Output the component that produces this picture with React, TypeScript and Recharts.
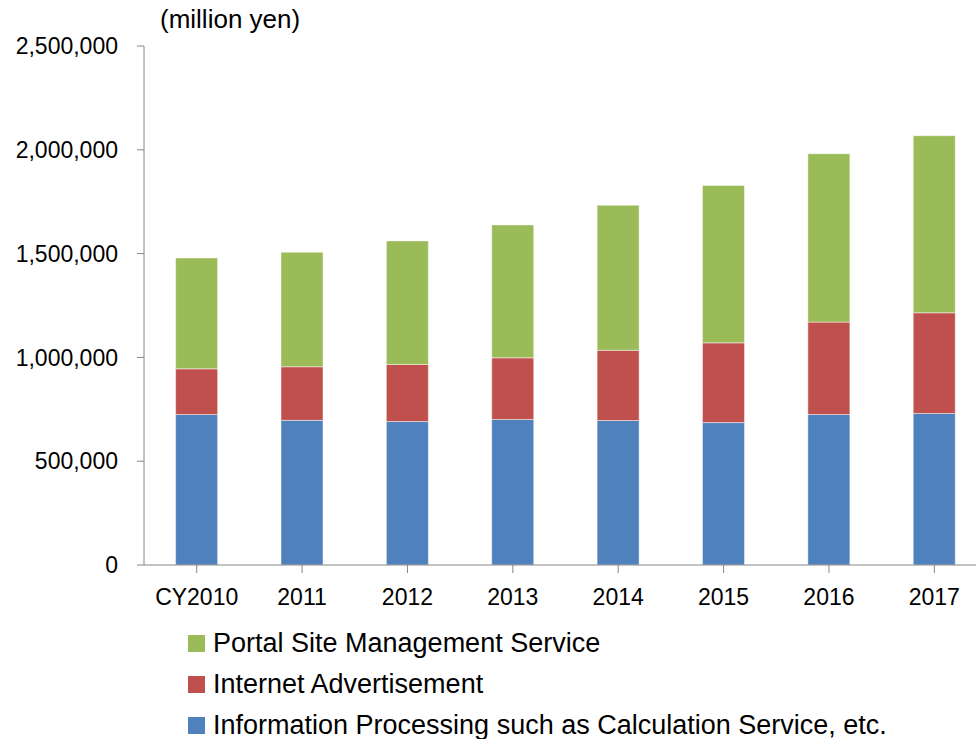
import { BarChart, Bar, XAxis, YAxis } from 'recharts';

// values (million yen)
const years = ['CY2010', '2011', '2012', '2013', '2014', '2015', '2016', '2017'];
const infoProcessing = [725000, 697000, 691000, 701000, 696000, 686000, 725000, 730000];
const internetAds = [220000, 258000, 275000, 297000, 338000, 384000, 445000, 485000];
const portalSites = [534000, 552000, 595000, 640000, 699000, 758000, 811000, 853000];
const yTicks = [0, 500000, 1000000, 1500000, 2000000, 2500000];

const series = [
  { key: 'portal', name: 'Portal Site Management Service', color: '#9BBB59' },
  { key: 'ads', name: 'Internet Advertisement', color: '#C0504D' },
  { key: 'info', name: 'Information Processing such as Calculation Service, etc.', color: '#4F81BD' },
];

const data = years.map((year, i) => ({
  year,
  info: infoProcessing[i],
  ads: internetAds[i],
  portal: portalSites[i],
}));

const font = '"Liberation Sans", Arial, sans-serif';
const axisColor = '#868686';

export default function App() {
  return (
    <div
      style={{
        position: 'absolute',
        left: 0,
        top: 0,
        width: 976,
        height: 739,
        overflow: 'hidden',
        background: '#fff',
        fontFamily: font,
      }}
    >
      <div style={{ position: 'absolute', left: 160, top: 4, fontSize: 26, color: '#000' }}>
        (million yen)
      </div>

      <BarChart
        width={1000}
        height={739}
        data={data}
        margin={{ top: 46, right: 13, left: 0, bottom: 0 }}
        barCategoryGap="30%"
        style={{ position: 'absolute', left: 0, top: 0 }}
      >
        <XAxis
          dataKey="year"
          height={174}
          stroke={axisColor}
          tickSize={8}
          tickMargin={16}
          tick={{ fill: '#000', fontSize: 23, fontFamily: font }}
          interval={0}
        />
        <YAxis
          width={144}
          domain={[0, 2500000]}
          ticks={yTicks}
          stroke={axisColor}
          tickSize={7}
          tickMargin={19}
          tick={{ fill: '#000', fontSize: 23, fontFamily: font }}
          tickFormatter={(v: number) => v.toLocaleString('en-US')}
        />
        <Bar dataKey="info" stackId="a" fill="#4F81BD" stroke="rgba(255,255,255,0.45)" isAnimationActive={false} />
        <Bar dataKey="ads" stackId="a" fill="#C0504D" stroke="rgba(255,255,255,0.45)" isAnimationActive={false} />
        <Bar dataKey="portal" stackId="a" fill="#9BBB59" stroke="rgba(255,255,255,0.45)" isAnimationActive={false} />
      </BarChart>

      <div style={{ position: 'absolute', left: 188, top: 623 }}>
        {series.map(s => (
          <div key={s.key} style={{ display: 'flex', alignItems: 'center', height: 41 }}>
            <span style={{ width: 17, height: 17, background: s.color, marginRight: 8, display: 'inline-block' }} />
            <span style={{ fontSize: 27, color: '#000', whiteSpace: 'nowrap' }}>{s.name}</span>
          </div>
        ))}
      </div>
    </div>
  );
}
